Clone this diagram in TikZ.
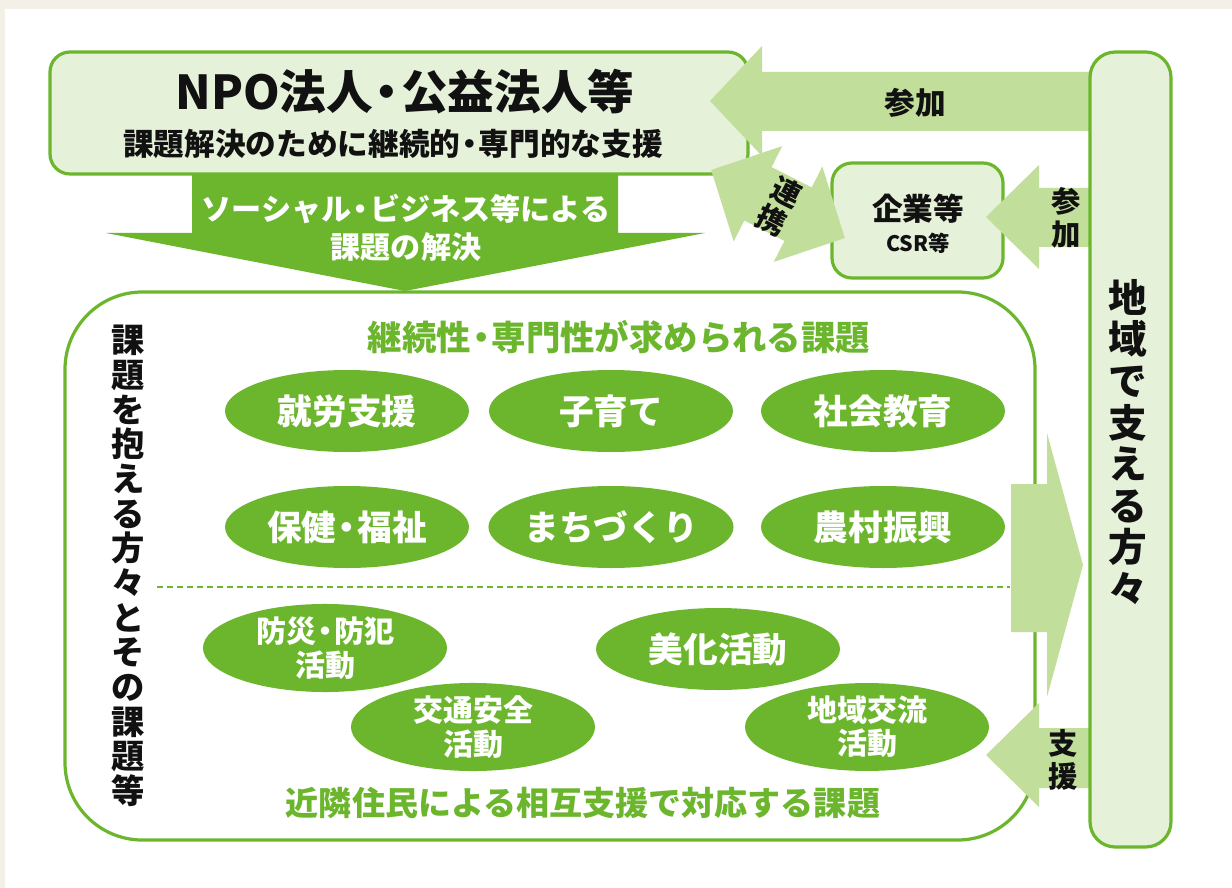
\documentclass[tikz,border=0pt]{standalone}
\usepackage{fontspec}
\setmainfont{Noto Sans CJK JP}
\usetikzlibrary{shapes.geometric}
\definecolor{dgreen}{HTML}{6CB62E}
\definecolor{lgreen}{HTML}{C2DE9B}
\definecolor{boxfill}{HTML}{E6F1D9}
\definecolor{beige}{HTML}{F4F0E8}
\definecolor{ink}{HTML}{111111}
\newcommand\fsz[2]{\fontsize{#1}{#2}\selectfont\bfseries}
\newcommand\nd{\kern-.2em・\kern-.2em}
\begin{document}
\begin{tikzpicture}[x=0.75pt,y=-0.75pt,
  roundbox/.style={draw=dgreen, line width=2.4pt, fill=boxfill, inner sep=0pt},
  lbl/.style={inner sep=0pt, align=center, text=ink},
  oval/.style={ellipse, fill=dgreen, minimum width=183pt, minimum height=61.5pt, inner sep=0pt, text=white, align=center},
  blockarrow/.style={fill=lgreen}]
\useasboundingbox (0,0) rectangle (1232,888);
\fill[beige] (0,0) rectangle (1232,888);
\fill[white] (5,9) rectangle (1232,888);

% down arrow
\fill[dgreen] (192,175) -- (618,175) -- (618,233) -- (705,233) -- (405,291) -- (106,233) -- (192,233) -- cycle;

% boxes
\node[roundbox, rounded corners=15pt, minimum width=523.5pt, minimum height=91.5pt] (npo) at (399,113) {};
\node[draw=dgreen, line width=2.4pt, fill=white, rounded corners=58pt, minimum width=727.5pt, minimum height=411pt, inner sep=0pt] (issues) at (550,566) {};
\node[roundbox, rounded corners=15pt, minimum width=128.25pt, minimum height=86.25pt] (corp) at (917.5,220.5) {};

% light arrows
\fill[blockarrow] (710,101) -- (762,46) -- (762,72) -- (1091,72) -- (1091,131) -- (762,131) -- (762,156) -- cycle;
\fill[blockarrow] (986,217) -- (1039,165) -- (1039,188) -- (1091,188) -- (1091,247) -- (1039,247) -- (1039,269) -- cycle;
\fill[blockarrow] (1011,484) -- (1047,484) -- (1047,433) -- (1083,565) -- (1047,697) -- (1047,632) -- (1011,632) -- cycle;
\fill[blockarrow] (986,755) -- (1039,703) -- (1039,728) -- (1091,728) -- (1091,788) -- (1039,788) -- (1039,807) -- cycle;
\begin{scope}[shift={(778,204)}, rotate=-27]
\fill[blockarrow] (-75,0) -- (-22.5,-53.5) -- (-22.5,-30) -- (22.5,-30) -- (22.5,-53.5) -- (75,0) -- (22.5,53.5) -- (22.5,30) -- (-22.5,30) -- (-22.5,53.5) -- cycle;
\end{scope}

% right box
\node[roundbox, rounded corners=19pt, minimum width=60.75pt, minimum height=596.25pt] (support) at (1130.5,449.5) {};

% texts in top part
\node[lbl, font=\fsz{35}{40}] (npot) at (405,92) {NPO法人\nd 公益法人等};
\node[lbl, font=\fsz{23}{26}] (npos) at (393,144) {課題解決のために継続的\nd 専門的な支援};
\node[lbl, font=\fsz{22.6}{28.5}, text=white] (sb) at (406,228) {ソーシャル\nd ビジネス等による\\課題の解決};
\node[lbl, font=\fsz{23}{28}] (sanka1) at (915,103) {参加};
\node[lbl, font=\fsz{22}{24}, rotate=-27] (ren) at (787,192) {連};
\node[lbl, font=\fsz{22}{24}, rotate=-27] (kei) at (772,220) {携};
\node[lbl, font=\fsz{23}{28}] (corpt) at (918,209) {企業等};
\node[lbl, font=\fsz{16}{20}] (csr) at (918,243) {CSR等};
\node[lbl, font=\fsz{22}{25}] (sanka2) at (1066,218) {参\\加};
\node[lbl, font=\fsz{22}{25}] (shien) at (1063,760) {支\\援};
\node[lbl, font=\fsz{29}{31.2}] (supt) at (1128,442) {地\\域\\で\\支\\え\\る\\方\\々};
\node[lbl, font=\fsz{25}{26}] (isst) at (128,566) {課\\題\\を\\抱\\え\\る\\方\\々\\と\\そ\\の\\課\\題\\等};

% issues
\node[lbl, font=\fsz{25.8}{30}, text=dgreen] (cont) at (619,337) {継続性\nd 専門性が求められる課題};
\node[oval, font=\fsz{26}{30}] (e1) at (347,411) {就労支援};
\node[oval, font=\fsz{26}{30}] (e2) at (611,411) {子育て};
\node[oval, font=\fsz{26}{30}] (e3) at (883,411) {社会教育};
\node[oval, font=\fsz{26}{30}] (e4) at (347,527) {保健\nd 福祉};
\node[oval, font=\fsz{26}{30}] (e5) at (611,527) {まちづくり};
\node[oval, font=\fsz{26}{30}] (e6) at (883,527) {農村振興};
\draw[dgreen, line width=1.5pt, dash pattern=on 4.5pt off 3pt] (157,587) -- (1010,587);
\node[oval, font=\fsz{22.5}{25}] (e7) at (325,648) {防災\nd 防犯\\活動};
\node[oval, font=\fsz{26}{30}] (e8) at (718,649) {美化活動};
\node[oval, font=\fsz{22.5}{25}] (e9) at (473,727) {交通安全\\活動};
\node[oval, font=\fsz{22.5}{25}] (e10) at (867,727) {地域交流\\活動};
\node[lbl, font=\fsz{24.8}{30}, text=dgreen] (mutual) at (583,803) {近隣住民による相互支援で対応する課題};
\end{tikzpicture}
\end{document}
